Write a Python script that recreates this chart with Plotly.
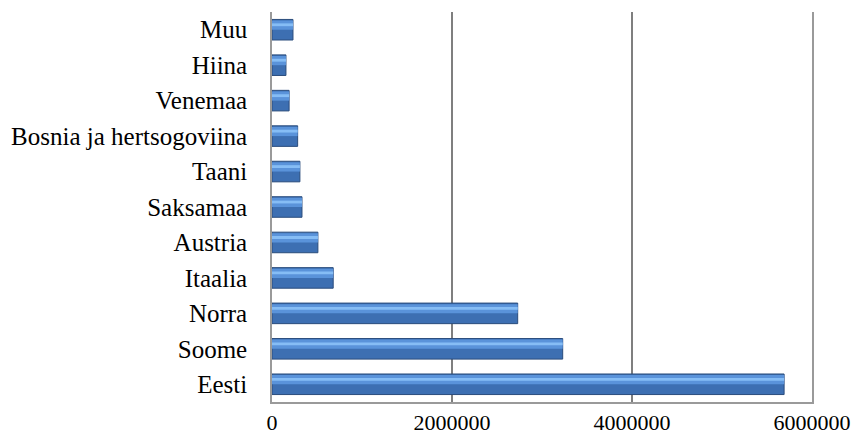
import plotly.graph_objects as go

categories = ["Eesti", "Soome", "Norra", "Itaalia", "Austria", "Saksamaa",
              "Taani", "Bosnia ja hertsogoviina", "Venemaa", "Hiina", "Muu"]
values = [5690000, 3230000, 2730000, 680000, 510000, 333000,
          310000, 285000, 190000, 155000, 233000]
x_ticks = [0, 2000000, 4000000, 6000000]

FONT = "Liberation Serif"

fig = go.Figure()
# main bar body
fig.add_trace(go.Bar(
    y=categories, x=values, orientation="h",
    width=0.58, offset=-0.29,
    marker=dict(color="#3d6fb2", line=dict(color="#2a4c7c", width=1)),
    hoverinfo="x+y", showlegend=False,
))
# light upper bevel
fig.add_trace(go.Bar(
    y=categories, x=values, orientation="h",
    width=0.26, offset=0.0,
    marker=dict(color="#5a93da", line=dict(width=0)),
    hoverinfo="skip", showlegend=False,
))
# bright highlight band
fig.add_trace(go.Bar(
    y=categories, x=values, orientation="h",
    width=0.08, offset=0.1,
    marker=dict(color="#86bdf5", line=dict(width=0)),
    hoverinfo="skip", showlegend=False,
))

fig.update_layout(
    width=854, height=436,
    margin=dict(l=272, r=42, t=12, b=34, autoexpand=False),
    paper_bgcolor="white", plot_bgcolor="white",
    barmode="overlay",
    font=dict(family=FONT, size=25, color="black"),
    xaxis=dict(
        range=[0, 6000000], tickvals=x_ticks,
        ticktext=[str(v) for v in x_ticks],
        showgrid=True, gridcolor="#7f7f7f", gridwidth=1.6,
        showline=True, linecolor="#9a9a9a", linewidth=1.6,
        zeroline=False, ticks="", ticklabelstandoff=0,
        ticklabeloverflow="allow",
        tickfont=dict(family=FONT, size=22), automargin=False,
    ),
    yaxis=dict(
        type="category", categoryorder="array", categoryarray=categories,
        range=[-0.5, len(categories) - 0.5],
        showgrid=False, showline=True, linecolor="#9a9a9a", linewidth=1.6,
        mirror=True,
        zeroline=False, ticks="", ticklabelstandoff=18,
        tickfont=dict(family=FONT, size=25), automargin=False,
    ),
)

fig.write_html("out.html",
               config={"displayModeBar": False},
               post_script="document.body.style.margin='0px';document.body.style.overflow='hidden';")
